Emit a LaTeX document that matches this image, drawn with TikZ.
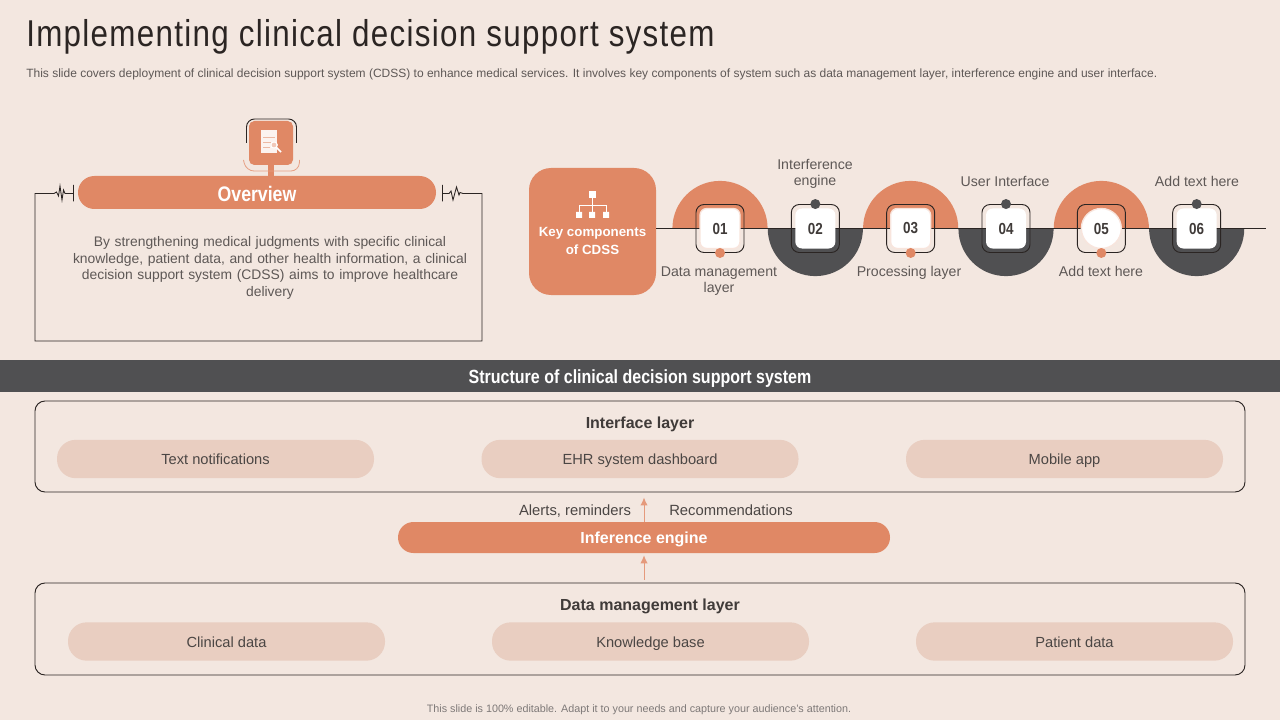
\documentclass[tikz,border=0pt]{standalone}
\usepackage{fontspec}
\setmainfont{Liberation Sans}
\newfontfamily\narrowfont[FakeStretch=0.84]{Liberation Sans}
\newfontfamily\headfont[FakeStretch=0.84,LetterSpace=3.5]{Liberation Sans}
\usetikzlibrary{shapes,arrows,arrows.meta}
\definecolor{paper}{HTML}{F3E7E0}
\definecolor{accent}{HTML}{E08865}
\definecolor{slate}{HTML}{505052}
\definecolor{blush}{HTML}{E9CEC1}
\definecolor{ink}{HTML}{2B2523}
\definecolor{bodytext}{HTML}{5E5856}
\tikzstyle{input} = [coordinate]
\tikzstyle{label} = [text=bodytext, font=\fontsize{10.6}{12}\selectfont, align=center, inner sep=0pt]
\tikzstyle{pill} = [fill=blush, rounded corners=14pt, minimum width=237.75pt, minimum height=28.75pt, inner sep=0pt, text=ink!85, text height=9.5pt, text depth=0.9pt, font=\fontsize{11}{12}\selectfont]
\tikzstyle{layerbox} = [draw=ink, line width=0.7pt, rounded corners=7.5pt, minimum width=907.5pt, inner sep=0pt]
\tikzstyle{banner} = [fill=accent, text=white, inner sep=0pt, text height=10.1pt, text depth=0.9pt, font=\bfseries]
\tikzstyle{heading} = [inner sep=0pt, text=ink!90, text height=9.4pt, text depth=1.6pt, font=\bfseries\fontsize{12}{13}\selectfont]
\tikzstyle{stepbox} = [draw=ink, line width=0.7pt, rounded corners=6pt, minimum size=36pt, inner sep=0pt]
\tikzstyle{stepface} = [fill=white, rounded corners=5pt, minimum size=30pt, inner sep=0pt, text=ink!90, font=\narrowfont\bfseries\fontsize{12}{12}\selectfont]
\tikzstyle{dot} = [circle, minimum size=7.5pt, inner sep=0pt]

\begin{document}
\begin{tikzpicture}[x=0.75pt, y=-0.75pt, auto, node distance=71.5pt, >={Latex[length=6pt,width=5.5pt]}]
    \useasboundingbox[fill=paper] (0,0) rectangle (1280,720);

    % Heading lines first
    \node [anchor=base west, inner sep=0pt, text=ink, font=\headfont\fontsize{28}{30}\selectfont] (title) at (26,47) {Implementing clinical decision support system};
    \node [anchor=base west, inner sep=0pt, text=bodytext, font=\fontsize{9}{10}\selectfont] (subtitle) at (26,77.5) {This slide covers deployment of clinical decision support system (CDSS) to enhance medical services. It involves key components of system such as data management layer, interference engine and user interface.};

    % The overview panel
    \node [banner, rounded corners=12.3pt, minimum width=268.5pt, minimum height=24.75pt, text height=14pt, text depth=1pt, font=\narrowfont\bfseries\fontsize{15.8}{17}\selectfont] (overview) at (257,192.5) {Overview};
    \node [fill=accent, minimum width=33pt, minimum height=33pt, rounded corners=4pt, inner sep=0pt] (icon) at (271,143) {};
    \draw [accent, line width=4.5pt] (icon.south) -- (icon.south |- overview.north);
    \draw [ink, line width=0.7pt, rounded corners=6pt] (246.5,143) -- (246.5,119) -- (296.5,119) -- (296.5,143);
    \draw [accent!80, line width=0.6pt, rounded corners=6pt] (243.5,160) -- (246,171) -- (299,171) -- (299.5,160);
    \fill [white!90!accent] (261,130) rectangle (277,153);
    \draw [accent!60, line width=0.5pt] (263,137) -- (275,137) (263,142) -- (275,142) (263,147) -- (270,147);
    \fill [accent!45] (274,145) circle (3.6);
    \draw [white, line width=0.9pt] (274,145) circle (3.2);
    \draw [white, line width=1.1pt] (276.5,147.5) -- (281,152);

    \draw [ink, line width=0.65pt] (73.5,185) -- (73.5,201.5) (73.5,193.5) -- (65,193.5) -- (63.5,190) -- (62,200) -- (60,186) -- (58.5,196) -- (56.5,192) -- (54,193.5) -- (35,193.5) -- (35,341) -- (482,341) -- (482,193.5) -- (463,193.5) -- (460,192.5) -- (459,195) -- (456.5,187) -- (453,200) -- (451,191) -- (449,193.5) -- (442.5,193.5) (442.5,185) -- (442.5,201.5);
    \node [label, text width=330pt, font=\fontsize{10.4}{12.4}\selectfont] (blurb) at (270,268) {By strengthening medical judgments with specific clinical\\knowledge, patient data, and other health information, a clinical\\decision support system (CDSS) aims to improve healthcare\\delivery};

    % The row of components
    \node [input, name=c1] at (720,228.5) {};
    \node [input, right of=c1] (c2) {};
    \node [input, right of=c2] (c3) {};
    \node [input, right of=c3] (c4) {};
    \node [input, right of=c4] (c5) {};
    \node [input, right of=c5] (c6) {};
    \fill [accent] (c1) ++(-35.7pt,0) arc [start angle=180, end angle=0, radius=35.7pt] -- cycle;
    \fill [slate] (c2) ++(-35.7pt,0) arc [start angle=180, end angle=360, radius=35.7pt] -- cycle;
    \fill [accent] (c3) ++(-35.7pt,0) arc [start angle=180, end angle=0, radius=35.7pt] -- cycle;
    \fill [slate] (c4) ++(-35.7pt,0) arc [start angle=180, end angle=360, radius=35.7pt] -- cycle;
    \fill [accent] (c5) ++(-35.7pt,0) arc [start angle=180, end angle=0, radius=35.7pt] -- cycle;
    \fill [slate] (c6) ++(-35.7pt,0) arc [start angle=180, end angle=360, radius=35.7pt] -- cycle;

    \node [banner, rounded corners=16.5pt, minimum size=95.25pt, align=center, text height=, text depth=, font=\bfseries\fontsize{10}{14}\selectfont] (keybox) at (592.5,231.5) {\\[7pt]Key components\\of CDSS};
    \node [input, name=lineend] at (1266,228.5) {};
    \draw [ink, line width=0.7pt] (keybox.east |- c1) -- (lineend);

    \fill [white] (589,191) rectangle (596,198);
    \fill [white] (576,212) rectangle (582,218) (589,212) rectangle (595,218) (603,212) rectangle (609,218);
    \draw [white, line width=0.6pt] (592,198) -- (592,212) (579,212) -- (579,205) -- (606,205) -- (606,212);

    \node [stepbox] (box1) at (c1) {};
    \node [stepbox] (box2) at (c2) {};
    \node [stepbox] (box3) at (c3) {};
    \node [stepbox] (box4) at (c4) {};
    \node [stepbox] (box5) at (c5) {};
    \node [stepbox] (box6) at (c6) {};

    \node [stepface, draw=accent!22, line width=1pt] (step1) at (c1) {01};
    \node [stepface] (step2) at (c2) {02};
    \node [stepface, draw=accent!22, line width=1pt] (step3) at (c3) {03};
    \node [stepface] (step4) at (c4) {04};
    \node [stepface, circle, draw=accent!22, line width=1pt] (step5) at (c5) {05};
    \node [stepface] (step6) at (c6) {06};

    \node [dot, fill=accent] (dot1) at (box1.south) {};
    \node [dot, fill=slate] (dot2) at (box2.north) {};
    \node [dot, fill=accent] (dot3) at (box3.south) {};
    \node [dot, fill=slate] (dot4) at (box4.north) {};
    \node [dot, fill=accent] (dot5) at (box5.south) {};
    \node [dot, fill=slate] (dot6) at (box6.north) {};

    \node [label] (name1) at (719,281) {Data management\\layer};
    \node [label] (name2) at (815,174) {Interference\\engine};
    \node [label] (name3) at (909,273) {Processing layer};
    \node [label] (name4) at (1005,181) {User Interface};
    \node [label] (name5) at (1101,271) {Add text here};
    \node [label] (name6) at (1197,181) {Add text here};

    % The structure below the band
    \fill [slate] (0,360) rectangle (1280,392);
    \node [text=white, inner sep=0pt, text height=12.5pt, text depth=0.8pt, font=\narrowfont\bfseries\fontsize{14.3}{15}\selectfont] (band) at (640,376) {Structure of clinical decision support system};

    \node [layerbox, minimum height=68.25pt] (interface) at (640,446.5) {};
    \node [heading] (interfacename) at (640,423) {Interface layer};
    \node [pill] (notify) at (215.5,459) {Text notifications};
    \node [pill] (ehr) at (640,459) {EHR system dashboard};
    \node [pill] (mobile) at (1064.5,459) {Mobile app};

    \node [banner, rounded corners=11.6pt, minimum width=369pt, minimum height=23.25pt, font=\bfseries\fontsize{12}{13}\selectfont] (engine) at (644,537.5) {Inference engine};
    \node [label, text=ink!85, font=\fontsize{11.1}{12}\selectfont] (alerts) at (575,511) {Alerts, reminders};
    \node [label, text=ink!85, font=\fontsize{11.1}{12}\selectfont] (advice) at (731,510) {Recommendations};

    \node [layerbox, minimum height=69pt] (data) at (640,629) {};
    \node [heading] (dataname) at (650,605) {Data management layer};
    \node [pill] (clinical) at (226.5,641.5) {Clinical data};
    \node [pill] (knowledge) at (650.5,641.5) {Knowledge base};
    \node [pill] (patient) at (1074.5,641.5) {Patient data};

    % Arrows run from node to node
    \draw [->, accent!85, line width=0.75pt, shorten >=3.75pt] (engine.north) -- (engine.north |- interface.south);
    \draw [->, accent!85, line width=0.75pt, shorten <=2.25pt, shorten >=1.5pt] (engine.south |- data.north) -- (engine.south);

    \node [inner sep=0pt, text=bodytext!80, text height=8pt, text depth=0.7pt, font=\fontsize{8.07}{9}\selectfont] (footer) at (639,708) {This slide is 100\% editable. Adapt it to your needs and capture your audience's attention.};
\end{tikzpicture}
\end{document}
